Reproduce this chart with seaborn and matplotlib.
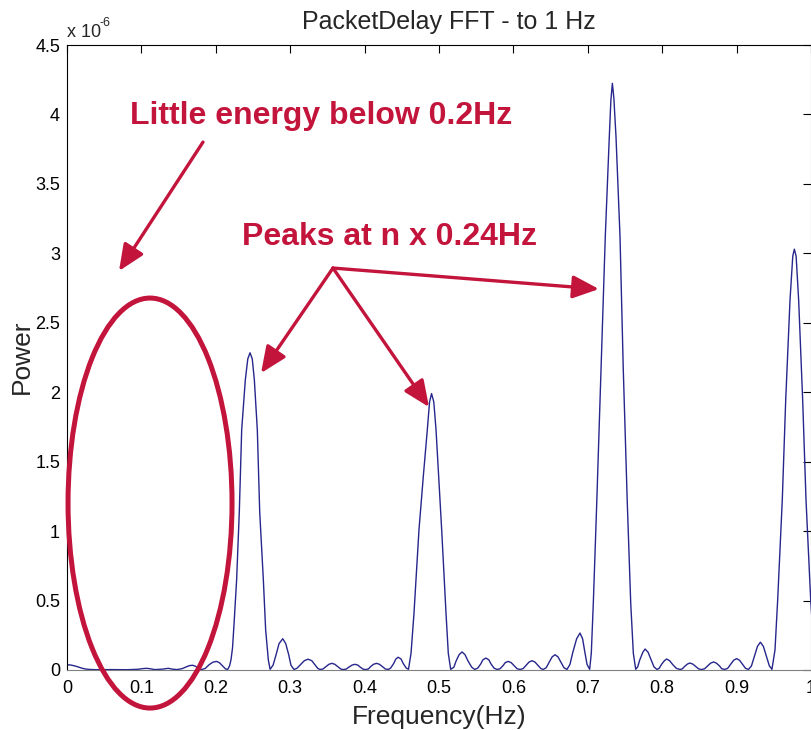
import numpy as np
import matplotlib
matplotlib.use("Agg")
import matplotlib.pyplot as plt
import seaborn as sns
from matplotlib.patches import Ellipse

# ==============================
# Data (power in units of 1e-6)
# ==============================
freq = [
    # low band
    0.000, 0.005, 0.010, 0.015, 0.020, 0.025, 0.030, 0.040, 0.060, 0.080,
    0.095, 0.102, 0.107, 0.112, 0.118, 0.128, 0.136, 0.142, 0.148, 0.155,
    0.160, 0.165, 0.169, 0.173, 0.177, 0.181, 0.186, 0.191, 0.196, 0.201,
    0.205, 0.209, 0.213, 0.216,
    # peak 1
    0.2185, 0.2204, 0.2225, 0.2245, 0.228, 0.2316, 0.2348, 0.2397, 0.243, 0.246,
    0.249, 0.2518, 0.2558, 0.259, 0.2639, 0.267, 0.2706, 0.273,
    # side lobes
    0.277, 0.281, 0.285, 0.290, 0.294, 0.298, 0.301, 0.305,
    0.309, 0.314, 0.319, 0.324, 0.329, 0.333, 0.337, 0.340,
    0.344, 0.348, 0.352, 0.356, 0.360, 0.364, 0.368, 0.371,
    0.375, 0.379, 0.383, 0.387, 0.391, 0.394, 0.398, 0.401,
    0.405, 0.408, 0.412, 0.416, 0.420, 0.424, 0.428, 0.432,
    0.435, 0.439, 0.442, 0.445, 0.449, 0.452, 0.456, 0.459,
    # peak 2
    0.4624, 0.4664, 0.4731, 0.479, 0.4843, 0.4873, 0.490, 0.493, 0.496, 0.5036,
    0.5094, 0.5125, 0.5157,
    # side lobes
    0.520, 0.523, 0.527, 0.531, 0.535, 0.539, 0.544, 0.548,
    0.552, 0.556, 0.559, 0.563, 0.567, 0.570, 0.574, 0.578,
    0.582, 0.586, 0.589, 0.593, 0.597, 0.601, 0.605, 0.609,
    0.613, 0.617, 0.621, 0.625, 0.629, 0.633, 0.637, 0.640,
    0.644, 0.648, 0.652, 0.656, 0.660, 0.664, 0.668, 0.672,
    0.676, 0.680, 0.685, 0.6895, 0.693, 0.696, 0.699, 0.7025,
    # peak 3
    0.7047, 0.7074, 0.712, 0.7177, 0.7235, 0.7289, 0.731, 0.733, 0.735, 0.7379,
    0.7433, 0.7477, 0.7531, 0.7577, 0.7612, 0.7644,
    # side lobes
    0.767, 0.770, 0.774, 0.777, 0.781, 0.785, 0.789, 0.793,
    0.796, 0.799, 0.803, 0.806, 0.810, 0.814, 0.819, 0.824,
    0.827, 0.830, 0.834, 0.837, 0.841, 0.845, 0.849, 0.853,
    0.857, 0.861, 0.865, 0.869, 0.873, 0.877, 0.880, 0.884,
    0.888, 0.892, 0.896, 0.900, 0.904, 0.908, 0.912, 0.916,
    0.920, 0.924, 0.928, 0.932, 0.936, 0.940, 0.944, 0.9475,
    # peak 4
    0.9516, 0.9552, 0.9614, 0.966, 0.9718, 0.9755, 0.9776, 0.980, 0.9834, 0.9888,
    0.9933, 0.9996, 1.002,
]
power = [
    # low band
    0.038, 0.036, 0.030, 0.022, 0.013, 0.007, 0.004, 0.002, 0.003, 0.002,
    0.005, 0.010, 0.012, 0.009, 0.003, 0.006, 0.012, 0.006, 0.003, 0.010,
    0.022, 0.032, 0.034, 0.026, 0.010, 0.003, 0.012, 0.038, 0.056, 0.062,
    0.052, 0.030, 0.008, 0.004,
    # peak 1
    0.030, 0.072, 0.160, 0.330, 0.650, 1.140, 1.730, 2.090, 2.240, 2.284,
    2.240, 2.090, 1.730, 1.140, 0.650, 0.290, 0.072, 0.005,
    # side lobes
    0.035, 0.110, 0.190, 0.225, 0.190, 0.110, 0.035, 0.004,
    0.012, 0.040, 0.067, 0.078, 0.067, 0.040, 0.012, 0.004,
    0.007, 0.024, 0.041, 0.048, 0.041, 0.024, 0.007, 0.003,
    0.006, 0.021, 0.035, 0.041, 0.035, 0.021, 0.006, 0.003,
    0.007, 0.024, 0.041, 0.048, 0.041, 0.024, 0.007, 0.004,
    0.014, 0.046, 0.079, 0.092, 0.079, 0.046, 0.014, 0.005,
    # peak 2
    0.120, 0.410, 1.010, 1.400, 1.730, 1.930, 1.990, 1.930, 1.730, 1.010,
    0.410, 0.120, 0.005,
    # side lobes
    0.020, 0.065, 0.110, 0.130, 0.110, 0.065, 0.020, 0.004,
    0.013, 0.043, 0.073, 0.086, 0.073, 0.043, 0.013, 0.004,
    0.009, 0.031, 0.053, 0.062, 0.053, 0.031, 0.009, 0.004,
    0.010, 0.034, 0.057, 0.067, 0.057, 0.034, 0.010, 0.004,
    0.016, 0.055, 0.094, 0.110, 0.094, 0.055, 0.016, 0.004,
    0.040, 0.130, 0.225, 0.266, 0.225, 0.130, 0.040, 0.005,
    # peak 3
    0.120, 0.480, 1.200, 2.160, 3.120, 3.840, 4.100, 4.224, 4.120, 3.840,
    3.120, 2.160, 1.200, 0.480, 0.120, 0.005,
    # side lobes
    0.022, 0.075, 0.128, 0.151, 0.128, 0.075, 0.022, 0.004,
    0.012, 0.040, 0.067, 0.079, 0.067, 0.040, 0.012, 0.004,
    0.008, 0.025, 0.043, 0.050, 0.043, 0.025, 0.008, 0.003,
    0.009, 0.029, 0.049, 0.058, 0.049, 0.029, 0.009, 0.004,
    0.012, 0.041, 0.070, 0.082, 0.070, 0.041, 0.012, 0.004,
    0.030, 0.100, 0.170, 0.200, 0.170, 0.100, 0.030, 0.005,
    # peak 4
    0.144, 0.504, 1.224, 1.944, 2.664, 2.980, 3.030, 2.980, 2.664, 1.944,
    1.224, 0.504, 0.300,
]

x_ticks = [0, 0.1, 0.2, 0.3, 0.4, 0.5, 0.6, 0.7, 0.8, 0.9, 1.0]
x_ticklabels = ["0", "0.1", "0.2", "0.3", "0.4", "0.5", "0.6", "0.7", "0.8", "0.9", "1"]
y_ticks = [0, 0.5, 1, 1.5, 2, 2.5, 3, 3.5, 4, 4.5]
y_ticklabels = ["0", "0.5", "1", "1.5", "2", "2.5", "3", "3.5", "4", "4.5"]

red = "#c3143c"

# ==============================
# Figure
# ==============================
sns.set_style("white")
plt.rcParams['font.family'] = ['Liberation Sans', 'DejaVu Sans']

W, H = 812, 730
fig = plt.figure(figsize=(W / 100, H / 100), dpi=100)
ax = fig.add_axes([67 / W, 1 - 670 / H, 744 / W, 625 / H])

sns.lineplot(x=freq, y=power, ax=ax, color="#26268c", linewidth=1.0,
             sort=False, estimator=None)

ax.set_xlim(0, 1)
ax.set_ylim(0, 4.5)
ax.set_xticks(x_ticks)
ax.set_xticklabels(x_ticklabels)
ax.set_yticks(y_ticks)
ax.set_yticklabels(y_ticklabels)
ax.tick_params(direction="in", length=6, width=0.8, top=True, right=True,
               labelsize=13, colors="black")
ax.tick_params(axis="x", pad=7)
ax.tick_params(axis="y", pad=5)
for side in ["top", "left"]:
    ax.spines[side].set_color("black")
for side in ["bottom", "right"]:
    ax.spines[side].set_color("#808080")
for s in ax.spines.values():
    s.set_linewidth(0.8)

# titles / labels in figure pixels
fig.text(449 / W, 1 - 29 / H, "PacketDelay FFT - to 1 Hz", fontsize=18,
         ha="center", va="baseline")
fig.text(439 / W, 1 - 724 / H, "Frequency(Hz)", fontsize=19,
         ha="center", va="baseline")
fig.text(22 / W, 1 - 357 / H, "Power", fontsize=19, rotation=90,
         ha="center", va="center")
fig.text(67 / W, 1 - 37 / H, "x 10", fontsize=13, ha="left", va="baseline")
fig.text(100 / W, 1 - 26 / H, "-6", fontsize=9, ha="left", va="baseline")

# ==============================
# Annotations
# ==============================
ax.add_patch(Ellipse((0.1116, 1.202), 0.2204, 2.952, fill=False,
                     edgecolor=red, linewidth=3.6, clip_on=False, zorder=5))

ax.text(0.0847, 3.931, "Little energy below 0.2Hz", color=red, fontsize=23,
        fontweight="bold", ha="left", va="baseline")
ax.text(0.2352, 3.06, "Peaks at n x 0.24Hz", color=red, fontsize=23,
        fontweight="bold", ha="left", va="baseline")

arrow_kw = dict(arrowstyle="-|>,head_length=0.8,head_width=0.35",
                color=red, lw=2.4, mutation_scale=20, shrinkA=0, shrinkB=0)
ax.annotate("", xy=(0.0699, 2.873), xytext=(0.1828, 3.801),
            arrowprops=arrow_kw, annotation_clip=False)
for tip in [(0.2608, 2.138), (0.4866, 1.893), (0.715, 2.743)]:
    ax.annotate("", xy=tip, xytext=(0.3575, 2.894),
                arrowprops=arrow_kw, annotation_clip=False)

fig.savefig("out.png", dpi=100)
